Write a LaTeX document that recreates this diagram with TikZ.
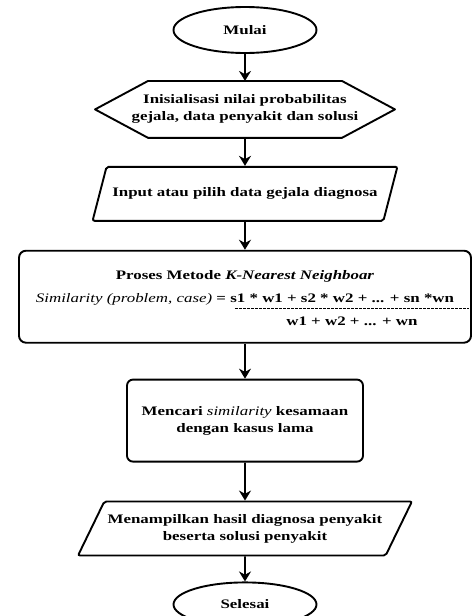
\documentclass[tikz,border=0pt]{standalone}
\usepackage{fontspec}
\setmainfont{Liberation Serif}[FakeStretch=1.3]
\usetikzlibrary{arrows.meta, positioning, shapes.geometric}

\begin{document}
\begin{tikzpicture}[->,>={Stealth[length=10pt,width=12pt]},line width=1.9pt,
  font=\bfseries\fontsize{13}{17}\selectfont,
  terminal/.style={ellipse,draw,minimum width=143pt,minimum height=46pt,align=center},
  prep/.style={rectangle,minimum width=298pt,minimum height=55pt,inner sep=0pt,align=center},
  io/.style={trapezium,trapezium left angle=53.5,trapezium right angle=126.5,
    trapezium stretches=true,draw,rounded corners=2pt,minimum width=306pt,
    minimum height=54pt,align=center},
  process/.style={rectangle,draw,rounded corners=7pt,align=center},
  txt/.style={inner sep=0pt}]
  \useasboundingbox (-245pt,30pt) rectangle (227pt,-586pt);
  \node[terminal] (mulai) {Mulai};
  \node[prep] (init) [below=27pt of mulai] {Inisialisasi nilai probabilitas\\gejala, data penyakit dan solusi};
  % hexagon round the preparation step
  \draw[-,line join=round] (init.west) -- ([xshift=53pt]init.north west) -- ([xshift=-53pt]init.north east)
    -- (init.east) -- ([xshift=-53pt]init.south east) -- ([xshift=53pt]init.south west) -- cycle;
  \node[io] (input) [below=28pt of init] {Input atau pilih data gejala diagnosa};
  \node[process,minimum width=452pt,minimum height=92pt] (knn) [below=28pt of input] {};
  \node[txt] (knntitle) [below=19.5pt of knn.north] {Proses Metode \textit{K-Nearest Neighboar}};
  \node[txt] (knnsim) [below=10pt of knntitle] {{\mdseries\itshape Similarity (problem, case)} = s1 * w1 + s2 * w2 + ... + sn *wn};
  \draw[-,line width=0.6pt,dash pattern=on 3pt off 1pt] ([xshift=-10pt,yshift=-2pt]knnsim.south)
    -- ([xshift=-3pt,yshift=-2pt]knn.east |- knnsim.south)
    node[txt,midway,below=8pt] (knnden) {w1 + w2 + ... + wn};
  \node[process,minimum width=236pt,minimum height=82pt,rounded corners=6pt] (cari) [below=35pt of knn]
    {Mencari {\mdseries\itshape similarity} kesamaan\\dengan kasus lama};
  \node[io] (tampil) [below=38pt of cari] {Menampilkan hasil diagnosa penyakit\\beserta solusi penyakit};
  \node[terminal,minimum height=44pt] (selesai) [below=25pt of tampil] {Selesai};

  \path (mulai)  edge (init)
        (init)   edge (input)
        (input)  edge (input |- knn.north)
        (knn)    edge (cari)
        (cari)   edge (tampil)
        (tampil) edge (selesai);
\end{tikzpicture}
\end{document}
